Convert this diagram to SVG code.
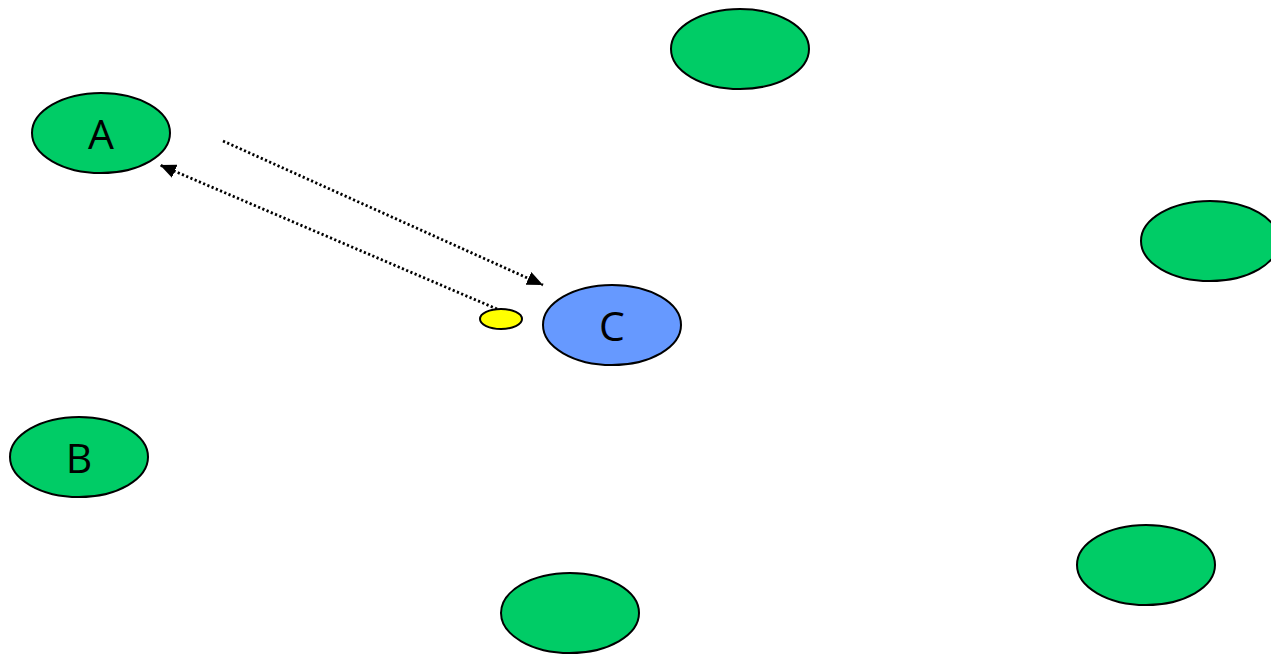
<svg xmlns="http://www.w3.org/2000/svg" width="1271" height="654" viewBox="0 0 1271 654">
  <style>
    .node { stroke: #000; stroke-width: 2; }
    .green { fill: #00cc66; }
    .blue { fill: #6699ff; }
    .yellow { fill: #ffff00; }
    .label { font-family: "Open Sans", "Liberation Sans", sans-serif; font-size: 41px; fill: #000; text-anchor: middle; dominant-baseline: central; }
    .link { stroke: #000; stroke-width: 2.8; stroke-dasharray: 2.2 2.4; fill: none; }
  </style>
  <defs>
    <marker id="head" viewBox="0 0 16 14" refX="16" refY="7" markerWidth="16" markerHeight="14" markerUnits="userSpaceOnUse" orient="auto">
      <path d="M0,0 L16,7 L0,14 Z" fill="#000"/>
    </marker>
  </defs>

  <g id="connectors">
    <line class="link" x1="223" y1="141" x2="543" y2="285" marker-end="url(#head)"/>
    <line class="link" x1="497" y1="309" x2="160" y2="165" marker-end="url(#head)"/>
  </g>

  <g id="node-a">
    <ellipse class="node green" cx="101" cy="133" rx="69" ry="40"/>
    <text class="label" x="101" y="133">A</text>
  </g>
  <g id="node-b">
    <ellipse class="node green" cx="79" cy="457" rx="69" ry="40"/>
    <text class="label" x="79" y="457">B</text>
  </g>
  <g id="node-c">
    <ellipse class="node blue" cx="612" cy="325" rx="69" ry="40"/>
    <text class="label" x="612" y="325">C</text>
  </g>
  <g id="node-small">
    <ellipse class="node yellow" cx="501" cy="319" rx="21" ry="10"/>
  </g>
  <g id="node-top">
    <ellipse class="node green" cx="740" cy="49" rx="69" ry="40"/>
  </g>
  <g id="node-right">
    <ellipse class="node green" cx="1210" cy="241" rx="69" ry="40"/>
  </g>
  <g id="node-lower-right">
    <ellipse class="node green" cx="1146" cy="565" rx="69" ry="40"/>
  </g>
  <g id="node-bottom">
    <ellipse class="node green" cx="570" cy="613" rx="69" ry="40"/>
  </g>
</svg>
